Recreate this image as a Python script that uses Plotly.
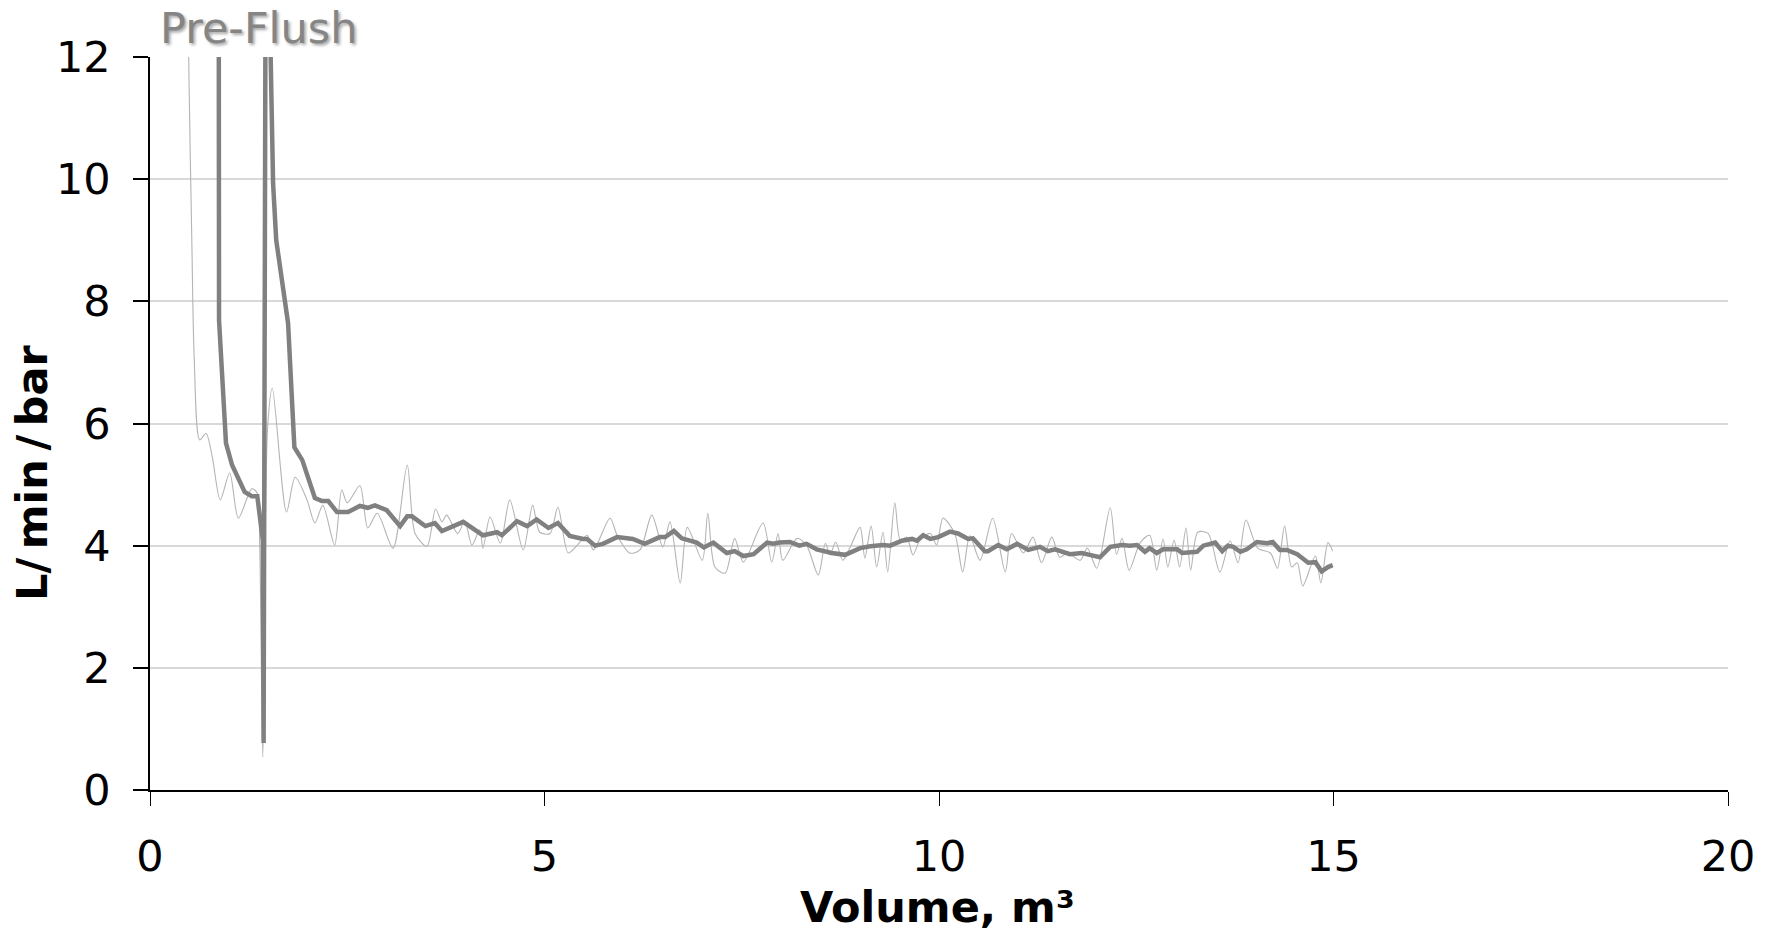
import plotly.graph_objects as go

# Moving-average (thick) series
ma_x = [0.87, 0.875, 0.963, 1.04, 1.2, 1.29, 1.36, 1.43, 1.44, 1.47, 1.56, 1.6, 1.75, 1.83, 1.93,
        2.09, 2.18, 2.26, 2.37, 2.51, 2.66, 2.76, 2.85, 3.0, 3.17, 3.26, 3.32, 3.49, 3.61, 3.70,
        3.97, 4.09, 4.22, 4.40, 4.46, 4.65, 4.78, 4.9, 5.05, 5.17, 5.32, 5.49, 5.54, 5.64, 5.74,
        5.92, 6.12, 6.27, 6.46, 6.53, 6.64, 6.74, 6.93, 7.02, 7.14, 7.31, 7.41, 7.52, 7.65, 7.82,
        7.90, 7.98, 8.11, 8.23, 8.32, 8.45, 8.64, 8.81, 9.0, 9.13, 9.29, 9.38, 9.53, 9.66, 9.72,
        9.80, 9.89, 9.99, 10.14, 10.24, 10.37, 10.43, 10.58, 10.62, 10.75, 10.86, 10.99, 11.13,
        11.28, 11.38, 11.47, 11.66, 11.81, 11.91, 12.04, 12.17, 12.32, 12.42, 12.51, 12.61, 12.67,
        12.76, 12.84, 13.02, 13.08, 13.27, 13.35, 13.5, 13.59, 13.66, 13.73, 13.82, 13.9, 14.03,
        14.16, 14.23, 14.32, 14.41, 14.54, 14.68, 14.77, 14.85, 14.93, 14.99]
ma_y = [15.0, 7.69, 5.68, 5.32, 4.88, 4.81, 4.81, 4.09, 0.77, 16.0, 9.93, 9.0, 7.64, 5.61, 5.40,
        4.78, 4.73, 4.73, 4.55, 4.55, 4.65, 4.62, 4.66, 4.58, 4.32, 4.48, 4.48, 4.32, 4.37, 4.24,
        4.39, 4.29, 4.17, 4.22, 4.17, 4.40, 4.32, 4.43, 4.29, 4.37, 4.16, 4.11, 4.11, 4.0, 4.03,
        4.14, 4.11, 4.03, 4.14, 4.14, 4.24, 4.12, 4.05, 3.97, 4.05, 3.88, 3.91, 3.83, 3.86, 4.05,
        4.03, 4.05, 4.06, 4.0, 4.03, 3.94, 3.88, 3.85, 3.96, 3.99, 4.01, 4.0, 4.08, 4.11, 4.08,
        4.17, 4.11, 4.14, 4.23, 4.2, 4.11, 4.12, 3.91, 3.91, 4.01, 3.94, 4.03, 3.93,
        3.98, 3.91, 3.94, 3.86, 3.88, 3.85, 3.81, 3.98, 4.01, 4.0, 4.01, 3.9, 3.96,
        3.88, 3.94, 3.94, 3.88, 3.9, 4.0, 4.05, 3.91, 4.0, 3.98, 3.9, 3.94, 4.06,
        4.04, 4.06, 3.93, 3.93, 3.86, 3.72, 3.73, 3.58, 3.65, 3.68]

# Raw (thin, smoothed) series
raw_x = [0.47, 0.49, 0.53, 0.56, 0.63, 0.71, 0.79, 0.89, 1.01, 1.12, 1.29, 1.36, 1.39, 1.43, 1.49,
         1.55, 1.73, 1.84, 1.99, 2.09, 2.19, 2.34, 2.43, 2.50, 2.66, 2.76, 2.88, 3.08, 3.26, 3.36,
         3.51, 3.62, 3.7, 3.76, 3.90, 3.99, 4.08, 4.18, 4.22, 4.31, 4.44, 4.56, 4.73, 4.85, 4.94,
         5.07, 5.17, 5.30, 5.41, 5.54, 5.62, 5.83, 5.92, 6.08, 6.21, 6.36, 6.50, 6.59, 6.72, 6.81,
         7.0, 7.07, 7.16, 7.29, 7.41, 7.52, 7.77, 7.88, 7.96, 8.02, 8.2, 8.32, 8.47, 8.56, 8.62,
         8.69, 8.78, 8.87, 9.0, 9.06, 9.14, 9.21, 9.29, 9.35, 9.44, 9.51, 9.59, 9.67, 9.76, 9.89,
         9.97, 10.05, 10.2, 10.3, 10.39, 10.52, 10.68, 10.84, 10.92, 11.07, 11.19, 11.3, 11.43,
         11.53, 11.63, 11.79, 11.88, 12.0, 12.17, 12.25, 12.32, 12.41, 12.55, 12.67, 12.76, 12.84,
         12.9, 12.98, 13.05, 13.13, 13.19, 13.28, 13.41, 13.56, 13.69, 13.79, 13.89, 14.04, 14.2,
         14.29, 14.38, 14.47, 14.54, 14.61, 14.77, 14.84, 14.93, 14.99]
raw_y = [15.0, 12.0, 9.0, 7.09, 5.73, 5.84, 5.45, 4.75, 5.19, 4.45, 4.93, 4.86, 4.04, 0.54, 5.92,
         6.58, 4.55, 5.12, 4.75, 4.37, 4.66, 4.01, 4.91, 4.70, 4.98, 4.29, 4.53, 3.96, 5.32, 4.2,
         3.99, 4.6, 4.39, 4.5, 4.2, 4.4, 4.01, 4.26, 3.96, 4.47, 4.04, 4.75, 3.93, 4.66, 4.22,
         4.2, 4.63, 3.88, 4.0, 4.17, 3.93, 4.45, 4.17, 3.88, 3.93, 4.5, 3.98, 4.39, 3.39, 4.3,
         3.76, 4.53, 3.65, 3.55, 4.12, 3.73, 4.37, 3.73, 4.2, 3.76, 4.12, 4.01, 3.52, 4.04, 3.85,
         4.06, 3.76, 3.96, 4.30, 3.8, 4.32, 3.65, 4.22, 3.57, 4.7, 4.09, 4.14, 3.85, 4.09, 4.2,
         4.01, 4.45, 4.2, 3.57, 4.16, 3.76, 4.45, 3.57, 4.2, 3.88, 4.14, 3.72, 4.14,
         3.81, 3.88, 3.76, 3.96, 3.63, 4.62, 3.86, 4.12, 3.6, 4.05, 4.17, 3.6, 4.11,
         3.65, 4.09, 3.65, 4.29, 3.6, 4.22, 4.2, 3.57, 4.08, 3.72, 4.42, 3.96, 3.88,
         3.63, 4.32, 3.65, 3.72, 3.34, 3.83, 3.39, 4.05, 3.91]

x_ticks = [0, 5, 10, 15, 20]
y_ticks = [0, 2, 4, 6, 8, 10, 12]

W, H = 1775, 933
ML, MR, MT, MB = 150, 47, 57, 143
PW, PH = W - ML - MR, H - MT - MB

def px_x(p):
    return (p - ML) / PW

def px_y(p):
    return (H - MB - p) / PH

FONT = "DejaVu Sans, Verdana, sans-serif"

fig = go.Figure()
fig.add_trace(go.Scatter(x=raw_x, y=raw_y, mode="lines",
                         line=dict(color="#b4b4b4", width=1.1, shape="spline", smoothing=0.8),
                         showlegend=False, hoverinfo="skip"))
fig.add_trace(go.Scatter(x=ma_x, y=ma_y, mode="lines",
                         line=dict(color="#808080", width=4.5),
                         showlegend=False, hoverinfo="skip"))

fig.update_layout(
    width=W, height=H,
    margin=dict(l=ML, r=MR, t=MT, b=MB, pad=0),
    paper_bgcolor="white", plot_bgcolor="white",
    font=dict(family=FONT, size=43, color="black"),
    showlegend=False,
)
fig.update_xaxes(range=[0, 20], tickvals=x_ticks, ticktext=[str(v) for v in x_ticks],
                 showgrid=False, zeroline=False, showline=True, linecolor="black", linewidth=1.6,
                 ticks="outside", ticklen=14, tickwidth=1, tickcolor="black",
                 ticklabelstandoff=14, tickfont=dict(size=43, family=FONT))
fig.update_yaxes(range=[0, 12], tickvals=y_ticks, ticktext=[str(v) for v in y_ticks],
                 showgrid=True, gridcolor="#d9d9d9", gridwidth=1.5, zeroline=False,
                 showline=True, linecolor="black", linewidth=1.6,
                 ticks="outside", ticklen=15, tickwidth=1.5, tickcolor="black",
                 ticklabelstandoff=14, tickfont=dict(size=43, family=FONT))

fig.add_annotation(text="Pre-Flush", xref="paper", yref="paper", x=px_x(158), y=px_y(28),
                   xanchor="left", yanchor="middle", showarrow=False,
                   font=dict(family=FONT, size=43, color="#858585",
                             shadow="2px 2px 3px rgba(0,0,0,0.35)"))
fig.add_annotation(text="<b>Volume, m³</b>", xref="paper", yref="paper", x=px_x(937), y=px_y(907),
                   xanchor="center", yanchor="middle", showarrow=False,
                   font=dict(family=FONT, size=43, color="black"))
fig.add_annotation(text="<b>L/\u2009min\u2009/\u2009bar</b>", xref="paper", yref="paper",
                   x=px_x(32), y=px_y(472),
                   xanchor="center", yanchor="middle", showarrow=False, textangle=-90,
                   font=dict(family=FONT, size=43, color="black"))

fig.write_html("out.html")
